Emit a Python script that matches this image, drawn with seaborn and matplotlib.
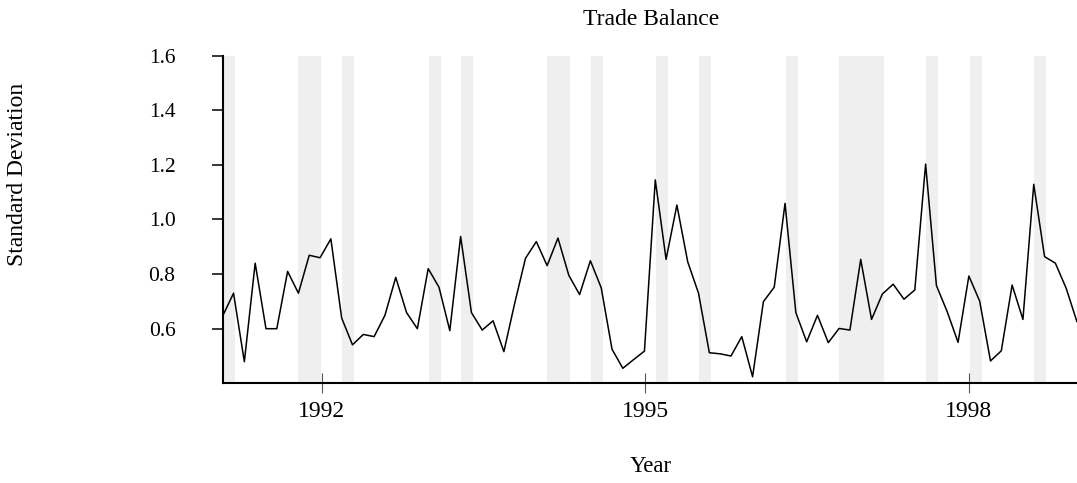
import numpy as np
import pandas as pd
import seaborn as sns
import matplotlib.pyplot as plt

# =========================
# Data
# =========================
sd_values = [
    0.647, 0.730, 0.479, 0.840, 0.600, 0.600, 0.810, 0.730, 0.869, 0.860,
    0.929, 0.639, 0.541, 0.579, 0.571, 0.649, 0.788, 0.659, 0.600, 0.820,
    0.752, 0.593, 0.938, 0.659, 0.595, 0.629, 0.516, 0.693, 0.858, 0.919,
    0.831, 0.932, 0.796, 0.725, 0.849, 0.750, 0.525, 0.455, 0.487, 0.518,
    1.145, 0.854, 1.053, 0.845, 0.730, 0.512, 0.508, 0.500, 0.571, 0.424,
    0.699, 0.752, 1.059, 0.659, 0.552, 0.649, 0.549, 0.601, 0.595, 0.854,
    0.634, 0.727, 0.763, 0.708, 0.742, 1.203, 0.758, 0.662, 0.550, 0.793,
    0.701, 0.482, 0.519, 0.760, 0.634, 1.129, 0.864, 0.840, 0.748, 0.625,
]
start_year = 1991.079
step_year = 0.10035

# shaded periods (start, end) in years
band_starts = [1991.079, 1991.780, 1992.187, 1992.995, 1993.291, 1994.088, 1994.496,
               1995.099, 1995.497, 1996.304, 1996.795, 1997.602, 1998.010, 1998.612]
band_ends = [1991.194, 1991.991, 1992.297, 1993.103, 1993.402, 1994.301, 1994.607,
             1995.210, 1995.608, 1996.415, 1997.212, 1997.713, 1998.121, 1998.723]

year_ticks = [1992, 1995, 1998]
sd_ticks = [0.6, 0.8, 1.0, 1.2, 1.4, 1.6]

df = pd.DataFrame({"sd": sd_values})
df["year"] = start_year + step_year * np.arange(len(df))

# =========================
# Plot
# =========================
sns.set_style("ticks")
plt.rcParams["font.family"] = ["Liberation Serif", "DejaVu Serif"]
plt.rcParams["text.color"] = "black"
plt.rcParams["axes.labelcolor"] = "black"

fig = plt.figure(figsize=(10.77, 4.83), dpi=100)
ax = fig.add_axes([0.2068, 0.2064, 0.7932, 0.6783])

for s, e in zip(band_starts, band_ends):
    ax.axvspan(s, e, color="#efefef", lw=0, zorder=0)

sns.lineplot(data=df, x="year", y="sd", color="black", linewidth=1.1, ax=ax, zorder=2)

ax.set_xlim(df["year"].iloc[0], df["year"].iloc[-1])
ax.set_ylim(0.4, 1.6)
ax.set_xticks(year_ticks)
ax.set_xticklabels([str(y) for y in year_ticks])
ax.set_yticks(sd_ticks)
ax.set_yticklabels([f"{v:.1f}" for v in sd_ticks])

sns.despine(ax=ax)
for side in ["left", "bottom"]:
    ax.spines[side].set_linewidth(1.5)
    ax.spines[side].set_color("black")

ax.tick_params(axis="y", direction="out", length=8, width=1.1, color="black",
               labelcolor="black", pad=26, labelsize=15.5)
ax.tick_params(axis="x", direction="inout", length=14.4, width=0.8, color="#555555",
               labelcolor="black", pad=5.5, labelsize=17)

ax.set_xlabel("")
ax.set_ylabel("")
ax.set_title("Trade Balance", fontsize=17, pad=22, x=0.502, color="black")
fig.text(651 / 1077, 1 - 467 / 483, "Year", ha="center", va="center", fontsize=16.5)
fig.text(18 / 1077, 1 - 174 / 483, "Standard Deviation", ha="center", va="center",
         rotation=90, fontsize=17)

fig.savefig("out.png", dpi=100)
